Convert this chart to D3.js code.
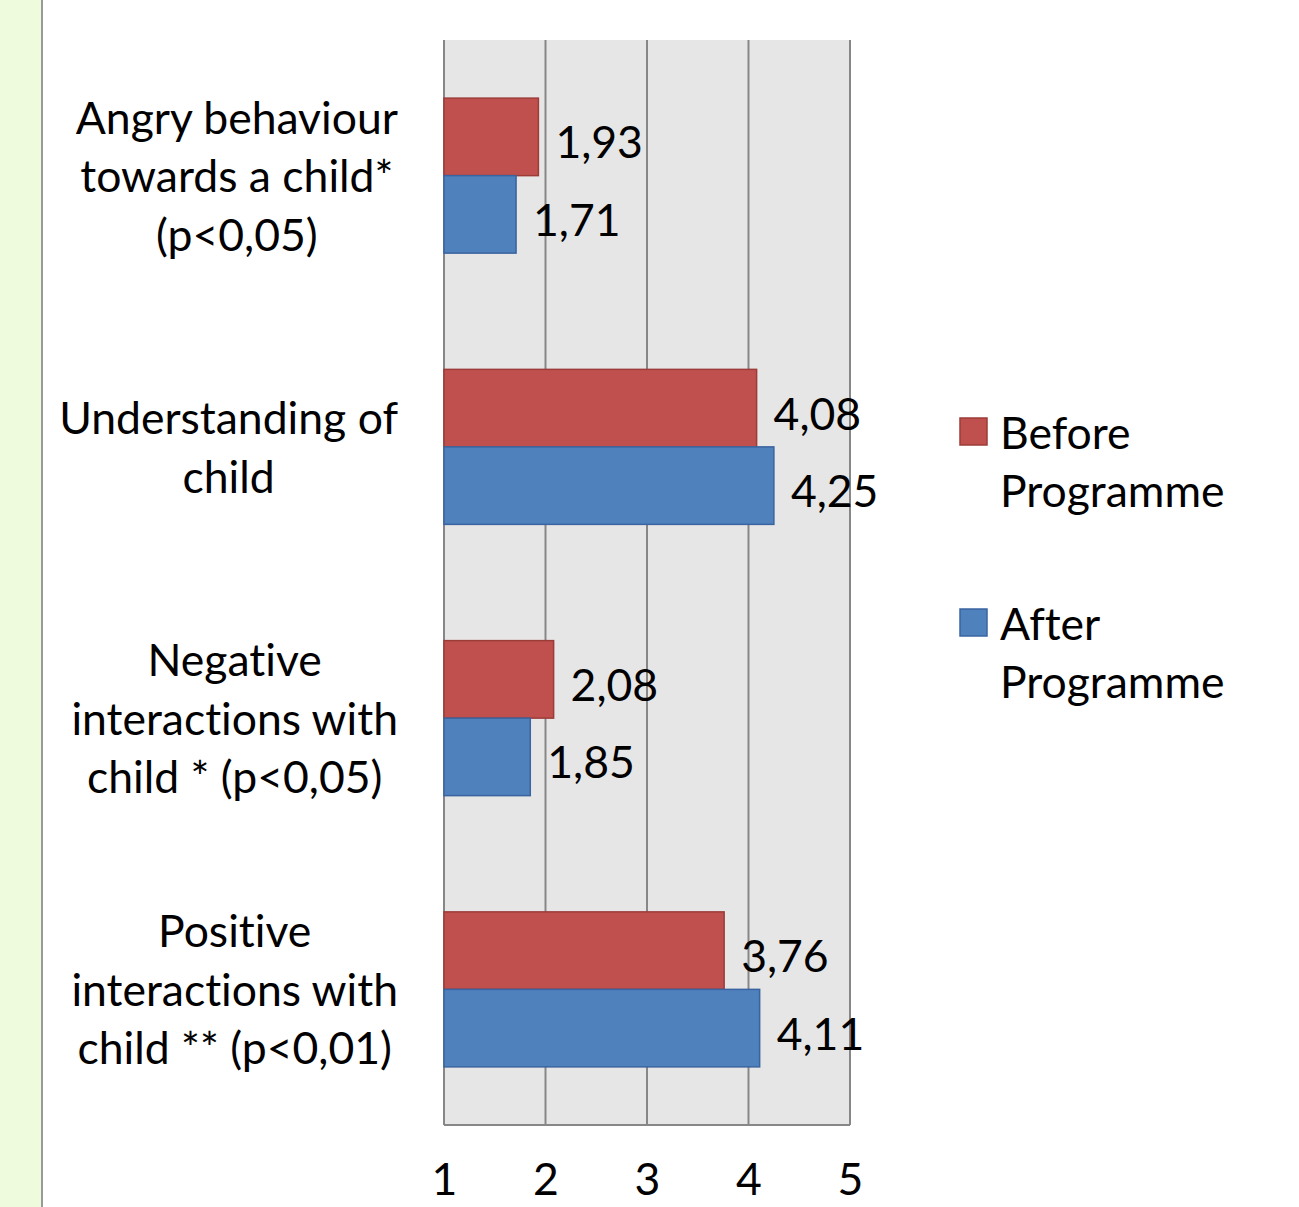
<!DOCTYPE html>
<html>
<head>
<meta charset="utf-8">
<script src="https://cdn.jsdelivr.net/npm/d3@7"></script>
<style>
  html, body { margin: 0; padding: 0; background: #fff; }
  svg { display: block; }
  text { font-family: Lato, "Open Sans", sans-serif; fill: #000; font-variant-ligatures: none; font-feature-settings: "liga" 0; }
</style>
</head>
<body>
<svg id="chart" width="1299" height="1207"></svg>
<script>
// Category labels, one entry per line
const categories = [
  ["Angry behaviour", "towards a child*", "(p<0,05)"],
  ["Understanding of", "child"],
  ["Negative", "interactions with", "child * (p<0,05)"],
  ["Positive", "interactions with", "child ** (p<0,01)"]
];
const seriesNames = [["Before", "Programme"], ["After", "Programme"]];
const beforeValues = [1.93, 4.08, 2.08, 3.76];
const afterValues = [1.71, 4.25, 1.85, 4.11];
const xTicks = [1, 2, 3, 4, 5];

const colors = ["#c0504d", "#4f81bd"];
const strokes = ["#9c3c39", "#3a64a0"];
const fontSize = 44.5;
const lineGap = 58.5;

const svg = d3.select("#chart");

// Left decorative band
svg.append("rect").attr("x", 0).attr("y", 0).attr("width", 42).attr("height", 1207).attr("fill", "#eefbdd");
svg.append("line").attr("x1", 42).attr("x2", 42).attr("y1", 0).attr("y2", 1207)
  .attr("stroke", "#9a9a9a").attr("stroke-width", 2);

const plot = { left: 444, right: 850, top: 40, bottom: 1125 };

const x = d3.scaleLinear().domain([1, 5]).range([plot.left, plot.right]);
const y = d3.scaleBand().domain(d3.range(categories.length)).range([plot.top, plot.bottom]);
const barH = 77.5;

// Plot background
svg.append("rect").attr("x", plot.left).attr("y", plot.top)
  .attr("width", plot.right - plot.left).attr("height", plot.bottom - plot.top)
  .attr("fill", "#e6e6e6");

// Vertical gridlines
svg.append("g").selectAll("line").data(xTicks).join("line")
  .attr("x1", d => x(d)).attr("x2", d => x(d))
  .attr("y1", plot.top).attr("y2", plot.bottom)
  .attr("stroke", "#878787").attr("stroke-width", 2);

// Bottom axis line
svg.append("line").attr("x1", plot.left).attr("x2", plot.right)
  .attr("y1", plot.bottom).attr("y2", plot.bottom)
  .attr("stroke", "#878787").attr("stroke-width", 2);

// Tick labels via d3 axis
const xAxis = d3.axisBottom(x).tickValues(xTicks).tickSize(0).tickPadding(0).tickFormat(d3.format("d"));
const axG = svg.append("g").attr("transform", `translate(0,${plot.bottom + 52})`).call(xAxis);
axG.select(".domain").remove();
axG.selectAll("text").attr("font-size", fontSize).attr("fill", "#000")
  .attr("font-family", "Lato, 'Open Sans', sans-serif")
  .attr("dy", null).attr("dominant-baseline", "central");

const series = [beforeValues, afterValues];
const fmt = v => d3.format(".2f")(v).replace(".", ",");

series.forEach((vals, si) => {
  const g = svg.append("g");
  g.selectAll("rect").data(vals).join("rect")
    .attr("x", x(1))
    .attr("y", (d, i) => y(i) + y.bandwidth() / 2 - barH + si * barH)
    .attr("width", d => x(d) - x(1))
    .attr("height", barH)
    .attr("fill", colors[si])
    .attr("stroke", strokes[si]).attr("stroke-width", 1.5);
  g.selectAll("text").data(vals).join("text")
    .attr("x", d => x(d) + 17)
    .attr("y", (d, i) => y(i) + y.bandwidth() / 2 - barH + si * barH + barH / 2 + 4)
    .attr("dominant-baseline", "central")
    .attr("font-size", fontSize)
    .text(d => fmt(d));
});

// Category labels: centred block, widest line ending near the axis
categories.forEach((lines, i) => {
  const g = svg.append("g");
  const cy = y(i) + y.bandwidth() / 2;
  const n = lines.length;
  const texts = g.selectAll("text").data(lines).join("text")
    .attr("y", (d, k) => cy + (k - (n - 1) / 2) * lineGap - 1)
    .attr("dominant-baseline", "central")
    .attr("text-anchor", "middle")
    .attr("font-size", fontSize)
    .text(d => d);
  let maxW = 0;
  texts.each(function () { maxW = Math.max(maxW, this.getComputedTextLength()); });
  texts.attr("x", 398 - maxW / 2);
});

// Legend
const legend = svg.append("g");
seriesNames.forEach((lines, si) => {
  const top = 431 + si * 191;
  legend.append("rect").attr("x", 960).attr("y", top - 13).attr("width", 27).attr("height", 27)
    .attr("fill", colors[si]).attr("stroke", strokes[si]).attr("stroke-width", 1.5);
  legend.selectAll(null).data(lines).join("text")
    .attr("x", 1000).attr("y", (d, k) => top + k * 58)
    .attr("dominant-baseline", "central")
    .attr("font-size", fontSize)
    .text(d => d);
});
</script>
</body>
</html>
